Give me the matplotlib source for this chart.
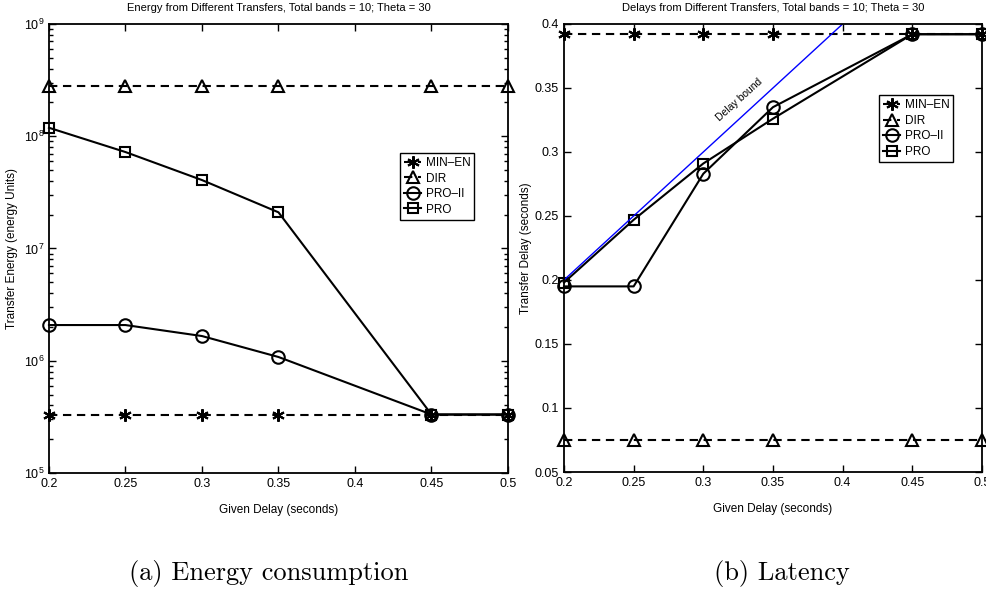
import math
import matplotlib
matplotlib.use('Agg')
import matplotlib.pyplot as plt
from matplotlib.ticker import FixedLocator, FuncFormatter, LogLocator, NullFormatter

plt.rcParams['font.family'] = ['Liberation Sans', 'DejaVu Sans']
plt.rcParams['mathtext.fontset'] = 'custom'
plt.rcParams['mathtext.rm'] = 'Liberation Sans'
plt.rcParams['mathtext.it'] = 'Liberation Sans:italic'
plt.rcParams['xtick.direction'] = 'in'
plt.rcParams['ytick.direction'] = 'in'

# given delay values (seconds)
given_delay = [0.2, 0.25, 0.3, 0.35, 0.45, 0.5]
labels = ['MIN\u2013EN', 'DIR', 'PRO\u2013II', 'PRO']

# transfer energy (energy units)
energy_min_en = [3.32e5, 3.32e5, 3.32e5, 3.32e5, 3.32e5, 3.32e5]
energy_dir = [2.79e8, 2.79e8, 2.79e8, 2.79e8, 2.79e8, 2.79e8]
energy_pro2 = [2.08e6, 2.08e6, 1.66e6, 1.08e6, 3.32e5, 3.32e5]
energy_pro = [1.19e8, 7.23e7, 4.07e7, 2.10e7, 3.32e5, 3.32e5]

# transfer delay (seconds)
delay_min_en = [0.392, 0.392, 0.392, 0.392, 0.392, 0.392]
delay_dir = [0.075, 0.075, 0.075, 0.075, 0.075, 0.075]
delay_pro2 = [0.195, 0.195, 0.283, 0.335, 0.392, 0.392]
delay_pro = [0.198, 0.247, 0.291, 0.326, 0.392, 0.392]

bound_x = [0.2, 0.4]
bound_y = [0.2, 0.4]

styles = [('--', (6, 2, 0), 9), ('--', '^', 9), ('-', 'o', 9), ('-', 's', 7.5)]

fig = plt.figure(figsize=(9.87, 5.92), dpi=100)
ax1 = fig.add_axes([0.0496, 0.201, 0.4651, 0.7585])
ax2 = fig.add_axes([0.5714, 0.2027, 0.4235, 0.7568])


def draw_series(ax, ys):
    handles = []
    for y, (ls, mk, ms), lab in zip(ys, styles, labels):
        h, = ax.plot(given_delay, y, color='k', linestyle=ls, marker=mk,
                     markersize=ms, markerfacecolor='none', markeredgecolor='k',
                     markeredgewidth=1.5, linewidth=1.5, label=lab, clip_on=False)
        if ls == '--':
            h.set_dashes((4, 2.7))
        handles.append(h)
    return handles


def style_axes(ax):
    for s in ax.spines.values():
        s.set_linewidth(1.3)
    ax.tick_params(which='both', top=True, right=True, labelsize=9, width=1.0)
    ax.tick_params(which='major', length=5)
    ax.tick_params(which='minor', length=3)
    ax.set_xlim(0.2, 0.5)
    ax.xaxis.set_major_locator(FixedLocator([0.2, 0.25, 0.3, 0.35, 0.4, 0.45, 0.5]))
    ax.xaxis.set_major_formatter(FuncFormatter(lambda v, p: '%g' % round(v, 3)))
    ax.set_xlabel('Given Delay (seconds)', fontsize=8.5, labelpad=10)


def add_legend(ax, handles, anchor):
    ax.legend(handles=handles, loc='upper left', bbox_to_anchor=anchor,
              fontsize=8.5, frameon=True, fancybox=False, edgecolor='k',
              framealpha=1, handlelength=1.4, handletextpad=0.4,
              labelspacing=0.3, borderpad=0.35, borderaxespad=0)


# energy panel
h1 = draw_series(ax1, [energy_min_en, energy_dir, energy_pro2, energy_pro])
ax1.set_yscale('log')
ax1.set_ylim(1e5, 1e9)
style_axes(ax1)
ax1.yaxis.set_major_locator(LogLocator(base=10, numticks=10))
ax1.yaxis.set_minor_locator(LogLocator(base=10, subs=range(2, 10), numticks=20))
ax1.yaxis.set_minor_formatter(NullFormatter())
ax1.yaxis.set_major_formatter(FuncFormatter(lambda v, p: r'$10^{%d}$' % round(math.log10(v))))
ax1.set_ylabel('Transfer Energy (energy Units)', fontsize=8.5)
ax1.yaxis.set_label_coords(-0.068, 0.5)
ax1.set_title('Energy from Different Transfers, Total bands = 10; Theta = 30',
              fontsize=8, pad=9)
add_legend(ax1, h1, (0.765, 0.713))

# delay panel
h2 = draw_series(ax2, [delay_min_en, delay_dir, delay_pro2, delay_pro])
ax2.plot(bound_x, bound_y, color='#0000ff', linewidth=1.0)
ax2.text(0.326, 0.341, 'Delay bound', rotation=42, fontsize=7.5,
         ha='center', va='center')
ax2.set_ylim(0.05, 0.4)
style_axes(ax2)
ax2.yaxis.set_major_locator(FixedLocator([0.05, 0.1, 0.15, 0.2, 0.25, 0.3, 0.35, 0.4]))
ax2.yaxis.set_major_formatter(FuncFormatter(lambda v, p: '%g' % round(v, 3)))
ax2.set_ylabel('Transfer Delay (seconds)', fontsize=8.5)
ax2.yaxis.set_label_coords(-0.076, 0.5)
ax2.set_title('Delays from Different Transfers, Total bands = 10; Theta = 30',
              fontsize=8, pad=9)
add_legend(ax2, h2, (0.754, 0.8415))

# subfigure captions
fig.text(0.272, 0.02, '(a) Energy consumption', fontsize=19, family='cmr10',
         ha='center', va='baseline')
fig.text(0.792, 0.02, '(b) Latency', fontsize=19, family='cmr10',
         ha='center', va='baseline')

fig.savefig('out.png', dpi=100)
